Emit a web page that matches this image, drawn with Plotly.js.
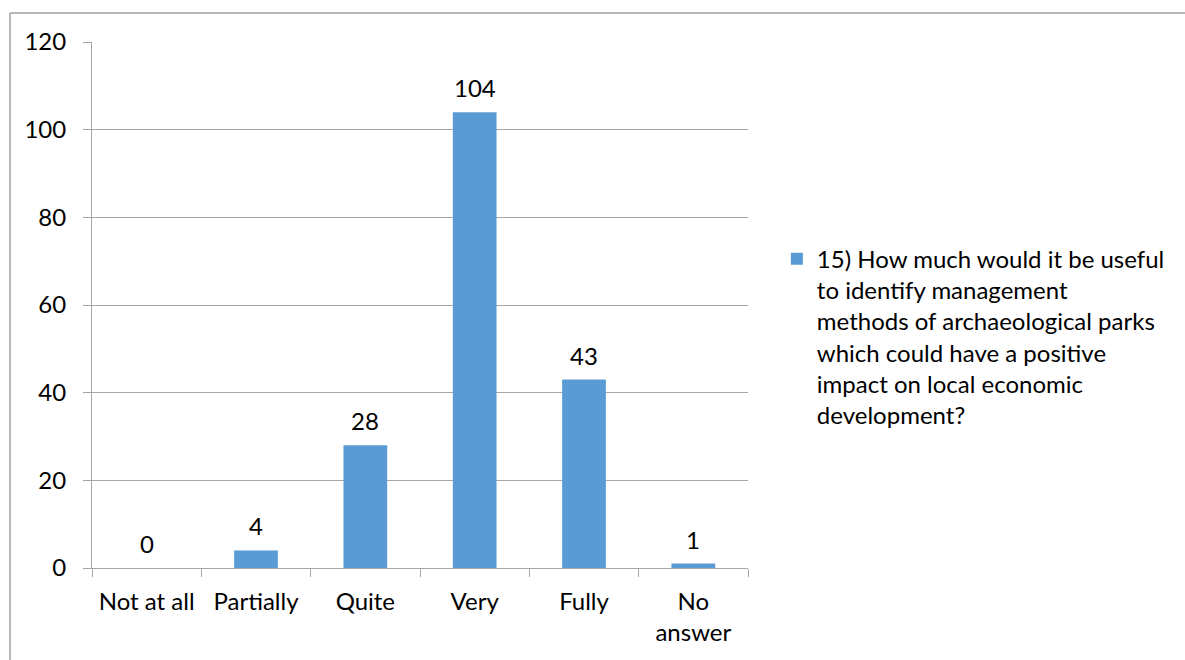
<!DOCTYPE html>
<html>
<head>
<meta charset="utf-8">
<script src="https://cdn.plot.ly/plotly-3.0.1.min.js"></script>
<style>
html,body{margin:0;padding:0;background:#fff;}
#chart{width:1185px;height:660px;}
</style>
</head>
<body>
<div id="chart"></div>
<script>
var categories = ["Not at all", "Partially", "Quite", "Very", "Fully", "No<br>answer"];
var values = [0, 4, 28, 104, 43, 1];
var seriesName = "15) How much would it be useful<br>to identify management<br>methods of archaeological parks<br>which could have a positive<br>impact on local economic<br>development?";

var fontFam = "Lato, 'Open Sans', sans-serif";
var FS = 24;
var trace = {
  type: "bar",
  x: categories,
  y: values,
  name: seriesName,
  marker: {color: "#5b9bd5"},
  showlegend: true
};

var annotations = categories.map(function (c, i) {
  return {
    x: c, y: values[i], xref: "x", yref: "y",
    text: String(values[i]), showarrow: false,
    yanchor: "bottom", yshift: 8,
    font: {family: fontFam, size: FS, color: "#000"}
  };
});

var layout = {
  width: 1185, height: 660,
  margin: {l: 92, r: 437, t: 42, b: 92},
  paper_bgcolor: "#fff", plot_bgcolor: "#fff",
  font: {family: fontFam, size: FS, color: "#000"},
  bargap: 0.6,
  xaxis: {
    type: "category",
    showline: true, linecolor: "#a6a6a6", linewidth: 1,
    ticks: "outside", tickson: "boundaries", ticklen: 8, tickcolor: "#a6a6a6",
    showgrid: false, zeroline: false,
    tickfont: {family: fontFam, size: FS, color: "#000"},
    ticklabelstandoff: 12,
    fixedrange: true
  },
  yaxis: {
    range: [0, 120], dtick: 20, tick0: 0,
    showline: true, linecolor: "#a6a6a6", linewidth: 1,
    ticks: "outside", ticklen: 8, tickcolor: "#a6a6a6",
    showgrid: true, gridcolor: "#a6a6a6", gridwidth: 1,
    zeroline: false,
    tickfont: {family: fontFam, size: FS, color: "#000"},
    ticklabelstandoff: 12
  },
  legend: {
    x: 1.044, xanchor: "left", y: 0.63, yanchor: "top",
    valign: "top",
    font: {family: fontFam, size: FS, color: "#000"},
    itemwidth: 30, bgcolor: "rgba(0,0,0,0)", tracegroupgap: 0
  },
  annotations: annotations,
  shapes: [
    {type: "line", xref: "paper", yref: "paper", x0: -0.125, x1: -0.125, y0: 1.055, y1: -0.2, line: {color: "#a0a0a0", width: 1.5}},
    {type: "line", xref: "paper", yref: "paper", x0: -0.125, x1: 1.7, y0: 1.055, y1: 1.055, line: {color: "#a0a0a0", width: 1.5}}
  ]
};

Plotly.newPlot("chart", [trace], layout, {displayModeBar: false, staticPlot: true});
</script>
</body>
</html>
